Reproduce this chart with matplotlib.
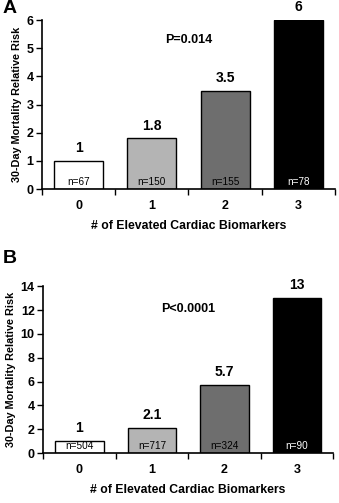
import matplotlib
matplotlib.use("Agg")
import matplotlib.pyplot as plt

plt.rcParams['font.family'] = ['Liberation Sans', 'DejaVu Sans']

categories = ["0", "1", "2", "3"]
risk_a = [1, 1.8, 3.5, 6]
labels_a = ["1", "1.8", "3.5", "6"]
n_a = ["n=67", "n=150", "n=155", "n=78"]
risk_b = [1, 2.1, 5.7, 13]
labels_b = ["1", "2.1", "5.7", "13"]
n_b = ["n=504", "n=717", "n=324", "n=90"]
bar_colors = ["#ffffff", "#b4b4b4", "#6e6e6e", "#000000"]
n_colors = ["#000000", "#000000", "#000000", "#ffffff"]

fig = plt.figure(figsize=(3.39, 5.03), dpi=100)

def panel(rect, vals, vlabels, ns, ymax, ystep, ptext, ptext_xy, letter, letter_y):
    ax = fig.add_axes(rect)
    x = list(range(len(categories)))
    ax.bar(x, vals, width=0.67, color=bar_colors, edgecolor="black", linewidth=1.0)
    ax.set_xlim(-0.5, 3.5)
    ax.set_ylim(0, ymax)
    ax.set_yticks(range(0, ymax + 1, ystep))
    ax.set_xticks([-0.5, 0.5, 1.5, 2.5, 3.5], minor=False)
    ax.set_xticklabels([])
    ax.tick_params(axis='x', which='major', length=4, width=1, direction='out')
    for xi, c in zip(x, categories):
        ax.text(xi, -0.10, c, transform=ax.get_xaxis_transform(), ha='center', va='center',
                fontsize=9, fontweight='bold')
    ax.tick_params(axis='y', length=4, width=1, direction='out', labelsize=9, pad=2)
    for lab in ax.get_yticklabels():
        lab.set_fontweight('bold')
    for s in ['top', 'right']:
        ax.spines[s].set_visible(False)
    for s in ['left', 'bottom']:
        ax.spines[s].set_linewidth(1.2)
    for xi, v, vl in zip(x, vals, vlabels):
        ax.text(xi, v + ymax * 0.035, vl, ha='center', va='bottom', fontsize=10, fontweight='bold')
    for xi, nn, nc in zip(x, ns, n_colors):
        ax.text(xi, ymax * 0.012, nn, ha='center', va='bottom', fontsize=7.2, color=nc)
    ax.text(ptext_xy[0], ptext_xy[1], ptext, ha='center', va='center', fontsize=9, fontweight='bold')
    ax.set_xlabel("# of Elevated Cardiac Biomarkers", fontsize=8.8, fontweight='bold', labelpad=15)
    ax.set_ylabel("30-Day Mortality Relative Risk", fontsize=7.8, fontweight='bold', labelpad=3)
    fig.text(0.008, letter_y, letter, fontsize=14, fontweight='bold', ha='left', va='top')
    return ax

panel([0.124, 0.624, 0.864, 0.336], risk_a, labels_a, n_a, 6, 1, "P=0.014", (1.5, 5.3), "A", 1.0)
panel([0.127, 0.099, 0.856, 0.332], risk_b, labels_b, n_b, 14, 2, "P<0.0001", (1.5, 12.1), "B", 0.502)

fig.savefig("out.png", dpi=100)
